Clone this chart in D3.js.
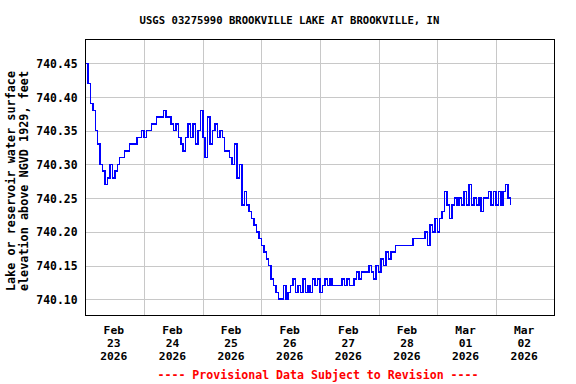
<!DOCTYPE html>
<html>
<head>
<meta charset="utf-8">
<script src="https://cdn.jsdelivr.net/npm/d3@7"></script>
<style>
  html, body { margin: 0; padding: 0; background: #fff; }
  svg { display: block; }
  text { font-family: "DejaVu Sans Mono", "Liberation Mono", monospace; font-weight: bold; }
</style>
</head>
<body>
<script>
// ---- data ----
const titleText = "USGS 03275990 BROOKVILLE LAKE AT BROOKVILLE, IN";
const yLabelLines = ["Lake or reservoir water surface", "elevation above NGVD 1929, feet"];
const footerText = "---- Provisional Data Subject to Revision ----";
const startTime = new Date(2026, 1, 23, 0, 0);   // first reading, hourly after that
const endTime = new Date(2026, 2, 3, 0, 0);
const yTicks = [740.10, 740.15, 740.20, 740.25, 740.30, 740.35, 740.40, 740.45];
// hourly lake elevation, ft
const elevation = [
  740.45, 740.42, 740.39, 740.38, 740.35, 740.33, 740.30, 740.29, 740.27, 740.28,
  740.30, 740.28, 740.29, 740.30, 740.31, 740.31, 740.32, 740.32, 740.33, 740.33,
  740.33, 740.34, 740.34, 740.35, 740.34, 740.35, 740.35, 740.36, 740.36, 740.37,
  740.37, 740.37, 740.38, 740.37, 740.37, 740.36, 740.35, 740.36, 740.34, 740.33,
  740.32, 740.34, 740.36, 740.34, 740.36, 740.33, 740.35, 740.38, 740.34, 740.31,
  740.37, 740.33, 740.35, 740.36, 740.34, 740.35, 740.34, 740.32, 740.32, 740.31,
  740.30, 740.33, 740.28, 740.30, 740.24, 740.26, 740.24, 740.23, 740.22, 740.21,
  740.20, 740.19, 740.18, 740.17, 740.16, 740.15, 740.13, 740.12, 740.11, 740.10,
  740.10, 740.12, 740.10, 740.11, 740.12, 740.13, 740.11, 740.12, 740.11, 740.13,
  740.11, 740.12, 740.11, 740.13, 740.12, 740.13, 740.11, 740.12, 740.13, 740.12,
  740.13, 740.12, 740.12, 740.12, 740.12, 740.13, 740.12, 740.13, 740.12, 740.12,
  740.13, 740.14, 740.13, 740.14, 740.14, 740.14, 740.15, 740.14, 740.13, 740.15,
  740.14, 740.16, 740.15, 740.17, 740.16, 740.17, 740.17, 740.18, 740.18, 740.18,
  740.18, 740.18, 740.18, 740.18, 740.19, 740.19, 740.19, 740.19, 740.19, 740.20,
  740.18, 740.21, 740.20, 740.22, 740.20, 740.22, 740.23, 740.26, 740.24, 740.22,
  740.24, 740.25, 740.24, 740.25, 740.24, 740.26, 740.24, 740.27, 740.24, 740.25,
  740.24, 740.25, 740.23, 740.25, 740.25, 740.26, 740.24, 740.26, 740.24, 740.26,
  740.24, 740.26, 740.27, 740.25, 740.24
];

const series = elevation.map((v, i) => ({ t: d3.timeHour.offset(startTime, i), v }));

// ---- chart ----
const W = 576, H = 384;
const plot = { left: 85.5, right: 554.5, top: 39.5, bottom: 315.5 };

const svg = d3.select("body").append("svg").attr("width", W).attr("height", H);
svg.append("rect").attr("width", W).attr("height", H).attr("fill", "#fff");

const x = d3.scaleTime().domain([startTime, endTime]).range([plot.left, plot.right]);
const y = d3.scaleLinear().domain([740.10, 740.45]).range([299.2, 63.3]);

// clip
svg.append("clipPath").attr("id", "clip").append("rect")
  .attr("x", plot.left).attr("y", plot.top)
  .attr("width", plot.right - plot.left).attr("height", plot.bottom - plot.top);

// grid
const days = d3.timeDay.range(d3.timeDay.offset(startTime, 1), endTime);
const grid = svg.append("g").attr("stroke", "#c8c8c8").attr("stroke-width", 1)
  .attr("shape-rendering", "crispEdges");
grid.selectAll("line.v").data(days).join("line").attr("class", "v")
  .attr("x1", d => Math.round(x(d)) + 0.5).attr("x2", d => Math.round(x(d)) + 0.5)
  .attr("y1", plot.top).attr("y2", plot.bottom);
grid.selectAll("line.h").data(yTicks).join("line").attr("class", "h")
  .attr("x1", plot.left).attr("x2", plot.right)
  .attr("y1", d => Math.round(y(d)) + 0.5).attr("y2", d => Math.round(y(d)) + 0.5);

// data line
const line = d3.line().x(d => x(d.t)).y(d => y(d.v)).curve(d3.curveStepAfter);
svg.append("path").datum(series)
  .attr("clip-path", "url(#clip)")
  .attr("fill", "none").attr("stroke", "#0000ff").attr("stroke-width", 1.5)
  .attr("shape-rendering", "crispEdges")
  .attr("d", line);

// border
svg.append("rect")
  .attr("x", plot.left).attr("y", plot.top)
  .attr("width", plot.right - plot.left).attr("height", plot.bottom - plot.top)
  .attr("fill", "none").attr("stroke", "#000").attr("stroke-width", 1)
  .attr("shape-rendering", "crispEdges");

// y tick labels
svg.append("g").selectAll("text").data(yTicks).join("text")
  .attr("x", 77.5).attr("y", d => y(d) + 4.6)
  .attr("text-anchor", "end").attr("font-size", "11.4px").attr("fill", "#000")
  .text(d => d3.format(".2f")(d));

// x tick labels (centred at noon of each day)
const labelDays = d3.timeDay.range(startTime, endTime);
const fmtM = d3.timeFormat("%b"), fmtD = d3.timeFormat("%d"), fmtY = d3.timeFormat("%Y");
const xl = svg.append("g").selectAll("text").data(labelDays).join("text")
  .attr("text-anchor", "middle").attr("font-size", "11.3px").attr("fill", "#000")
  .attr("transform", d => `translate(${x(d3.timeHour.offset(d, 12)) - 1},0)`);
xl.append("tspan").attr("x", 0).attr("y", 334).text(d => fmtM(d));
xl.append("tspan").attr("x", 0).attr("y", 346.8).text(d => fmtD(d));
xl.append("tspan").attr("x", 0).attr("y", 359.5).text(d => fmtY(d));

// title
svg.append("text").attr("x", 289.5).attr("y", 24)
  .attr("text-anchor", "middle").attr("font-size", "10.6px").attr("fill", "#000")
  .text(titleText);

// y axis title
svg.append("g").selectAll("text").data(yLabelLines).join("text")
  .attr("text-anchor", "middle").attr("font-size", "11.8px").attr("fill", "#000")
  .attr("transform", (d, i) => `translate(${15 + i * 13},181) rotate(-90)`)
  .text(d => d);

// footer
svg.append("text").attr("x", 318).attr("y", 378.5)
  .attr("text-anchor", "middle").attr("font-size", "11.6px").attr("fill", "#ff0000")
  .text(footerText);
</script>
</body>
</html>
